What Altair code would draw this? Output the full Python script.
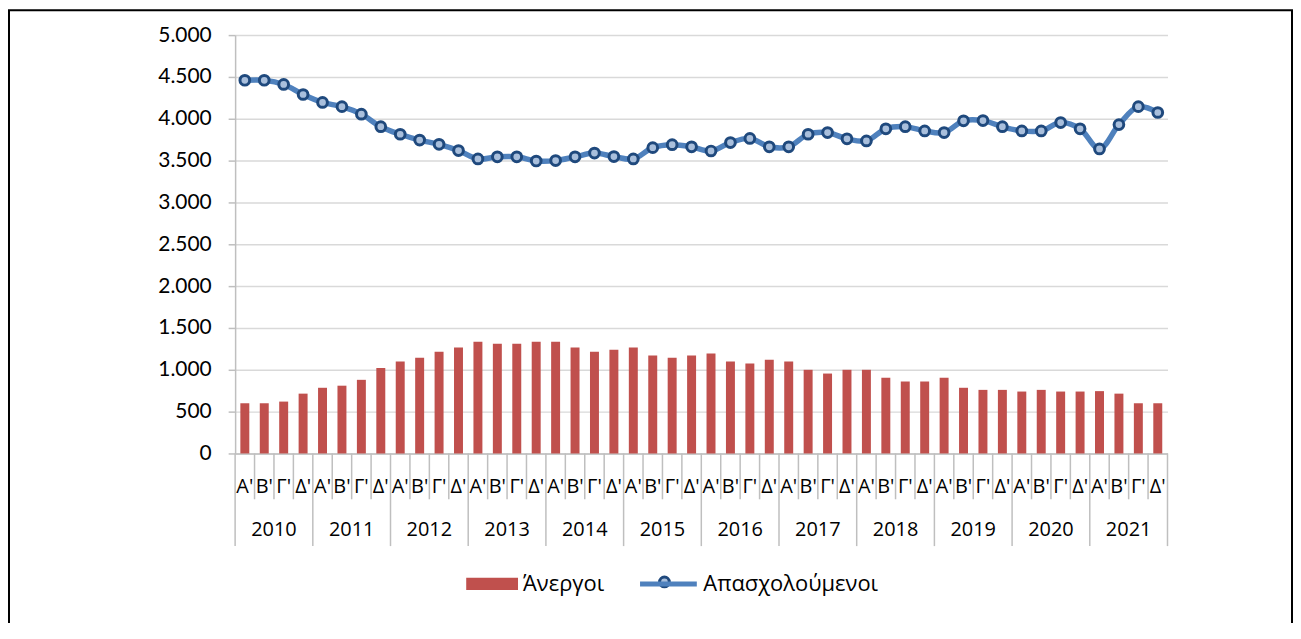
import altair as alt
import pandas as pd

years = [str(y) for y in range(2010, 2022)]
quarters = ["Α'", "Β'", "Γ'", "Δ'"]
unemployed = [600, 600, 620, 715, 785, 810, 880, 1020, 1100, 1145, 1215, 1265,
              1335, 1310, 1310, 1335, 1335, 1265, 1215, 1240, 1265, 1170, 1145, 1170,
              1195, 1100, 1075, 1120, 1100, 1000, 955, 1000, 1000, 905, 860, 860,
              905, 785, 760, 760, 740, 760, 740, 740, 745, 715, 600, 600]
employed = [4460, 4460, 4410, 4290, 4195, 4145, 4055, 3905, 3815, 3745, 3695, 3620,
            3520, 3545, 3545, 3495, 3500, 3545, 3590, 3548, 3520, 3655, 3690, 3665,
            3615, 3715, 3765, 3665, 3665, 3815, 3835, 3760, 3735, 3880, 3905, 3855,
            3835, 3975, 3978, 3905, 3855, 3855, 3955, 3880, 3640, 3930, 4145, 4075]
bar_name = "Άνεργοι"
line_name = "Απασχολούμενοι"

rows = []
for i, (u, e) in enumerate(zip(unemployed, employed)):
    rows.append({"idx": i, "year": years[i // 4], "q": quarters[i % 4], "qn": i % 4,
                 "unemp": u, "emp": e, "s_bar": bar_name, "s_line": line_name})
df = pd.DataFrame(rows)
last = len(unemployed) - 1

W, H = 936, 420
FONT = "Open Sans"
NUM_FONT = "Lato"
GRID = "#d9d9d9"
AXIS = "#bfbfbf"
RED = "#C0504D"
BLUE = "#4F81BD"
NAVY = "#1F497D"
PFILL = "#a9bfdc"

xs = alt.Scale(type="band", paddingInner=0, paddingOuter=0)
ys = alt.Scale(domain=[0, 5000])
x_axis = alt.Axis(labels=False, ticks=False, title=None, domainColor=AXIS,
                  domainWidth=1.5, grid=False)
y_axis = alt.Axis(values=list(range(0, 5001, 500)), title=None,
                  labelExpr="replace(format(datum.value, ','), ',', '.')",
                  labelFont=NUM_FONT, labelFontSize=21, labelColor="black",
                  labelPadding=17, tickSize=7, tickColor=AXIS, tickWidth=1.5,
                  domainColor=AXIS, domainWidth=1.5, gridColor=GRID, gridWidth=1.5)
base = alt.Chart(df)

bars = base.mark_bar(size=9).encode(
    x=alt.X("idx:O", scale=xs, axis=x_axis),
    y=alt.Y("unemp:Q", scale=ys, axis=y_axis),
    fill=alt.Fill("s_bar:N", scale=alt.Scale(domain=[bar_name], range=[RED]),
                  legend=alt.Legend(orient="none", legendX=232, legendY=525, title=None,
                                    symbolType="M-1,-0.235L1,-0.235L1,0.235L-1,0.235Z",
                                    symbolSize=2704, symbolStrokeWidth=0,
                                    labelFont=FONT, labelFontSize=22, labelOffset=5,
                                    labelLimit=400, labelColor="black")),
)

line = base.mark_line(strokeWidth=5.5, interpolate="catmull-rom").encode(
    x=alt.X("idx:O", scale=xs, axis=x_axis),
    y=alt.Y("emp:Q", scale=ys, axis=y_axis),
    stroke=alt.Stroke("s_line:N", scale=alt.Scale(domain=[line_name], range=[BLUE]),
                      legend=alt.Legend(orient="none", legendX=404, legendY=520, title=None,
                                        symbolType="stroke", symbolSize=3249,
                                        symbolStrokeWidth=5, labelFont=FONT,
                                        labelFontSize=22, labelOffset=4,
                                        labelLimit=400, labelColor="black")),
)

points = base.mark_point(filled=True, size=95, fill=PFILL, stroke=NAVY, strokeWidth=3,
                         opacity=1).encode(
    x=alt.X("idx:O", scale=xs, axis=x_axis),
    y=alt.Y("emp:Q", scale=ys, axis=y_axis),
)

# marker drawn over the line's legend symbol
legend_marker = alt.Chart(pd.DataFrame({"k": [0]})).mark_point(
    filled=True, size=95, fill=PFILL, stroke=NAVY, strokeWidth=3, opacity=1).encode(
    x=alt.value(431), y=alt.value(549),
)

qlabels = base.mark_text(font=FONT, fontSize=20, color="black", baseline="middle").encode(
    x=alt.X("idx:O", scale=xs, axis=x_axis),
    y=alt.value(454),
    text="q:N",
)

ylabels = base.transform_filter("datum.qn == 2").mark_text(
    font=FONT, fontSize=20, color="black", baseline="middle").encode(
    x=alt.X("idx:O", scale=xs, axis=x_axis, bandPosition=0),
    y=alt.value(497),
    text="year:N",
)

qsep = base.transform_filter("datum.qn != 0").mark_rule(color=AXIS, strokeWidth=1.5).encode(
    x=alt.X("idx:O", scale=xs, axis=x_axis, bandPosition=0),
    y=alt.value(420), y2=alt.value(466),
)
ysep = base.transform_filter("datum.qn == 0").mark_rule(color=AXIS, strokeWidth=1.5).encode(
    x=alt.X("idx:O", scale=xs, axis=x_axis, bandPosition=0),
    y=alt.value(420), y2=alt.value(513),
)
yend = base.transform_filter(f"datum.idx == {last}").mark_rule(color=AXIS, strokeWidth=1.5).encode(
    x=alt.X("idx:O", scale=xs, axis=x_axis, bandPosition=1),
    y=alt.value(420), y2=alt.value(513),
)

border = alt.Chart(pd.DataFrame({"k": [0]})).mark_rect(
    fillOpacity=0, stroke="black", strokeWidth=2).encode(
    x=alt.value(-227), x2=alt.value(1061), y=alt.value(-25), y2=alt.value(700),
)

chart = alt.layer(qsep, ysep, yend, bars, line, points, qlabels, ylabels, border,
                  legend_marker).properties(
    width=W, height=H,
    autosize=alt.AutoSizeParams(type="none"),
    padding={"left": 228, "top": 26, "right": 126, "bottom": 169},
    background="white",
).configure_view(stroke=None)

chart.save("out.html", embed_options={"renderer": "svg", "actions": False})
